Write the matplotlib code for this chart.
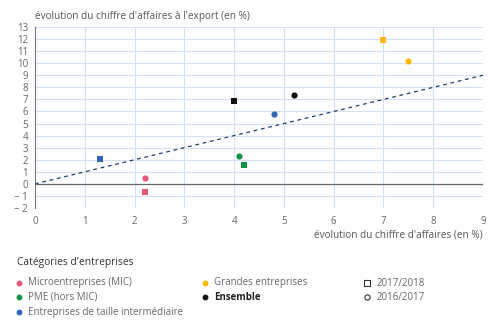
import matplotlib
matplotlib.use("Agg")
import matplotlib.pyplot as plt
from matplotlib.lines import Line2D
from matplotlib.ticker import FuncFormatter

plt.rcParams['font.family'] = ['Open Sans', 'DejaVu Sans']

categories = ["Microentreprises (MIC)", "PME (hors MIC)", "Entreprises de taille intermédiaire",
              "Grandes entreprises", "Ensemble"]
colors = ["#e8567a", "#15924a", "#3464b4", "#fbb800", "#111111"]
# 2017/2018 (squares)
x_1718 = [2.2, 4.2, 1.3, 7.0, 4.0]
y_1718 = [-0.7, 1.6, 2.1, 11.9, 6.9]
# 2016/2017 (circles)
x_1617 = [2.2, 4.1, 4.8, 7.5, 5.2]
y_1617 = [0.5, 2.3, 5.8, 10.2, 7.4]
periods = ["2017/2018", "2016/2017"]
diag = [0, 9]

W, H = 500, 331
fig = plt.figure(figsize=(5, 3.31), dpi=100)
ax = fig.add_axes([35 / W, 1 - 208 / H, (483 - 35) / W, (208 - 27) / H])

ax.set_xlim(0, 9)
ax.set_ylim(-2, 13)
ax.set_xticks(range(0, 10))
ax.set_yticks(range(-2, 14))
ax.grid(True, color="#d6e1ef", linewidth=0.8)
ax.set_axisbelow(True)
for s in ["top", "right", "bottom"]:
    ax.spines[s].set_visible(False)
ax.spines["left"].set_color("#777777")
ax.spines["left"].set_linewidth(0.8)
ax.axhline(0, color="#666666", linewidth=0.9, zorder=1)
ax.tick_params(length=0, labelsize=7, colors="#666666")
ax.tick_params(axis="y", pad=5)
ax.tick_params(axis="x", pad=6)
ax.yaxis.set_major_formatter(FuncFormatter(lambda v, p: f"− {abs(int(v))}" if v < 0 else f"{int(v)}"))

ax.plot(diag, diag, linestyle=(0, (3, 3)), color="#1f3b70", linewidth=0.9, zorder=2)

for i in range(len(categories)):
    ax.scatter(x_1718[i], y_1718[i], marker="s", s=22, color=colors[i], zorder=3, linewidths=0)
    ax.scatter(x_1617[i], y_1617[i], marker="o", s=20, color=colors[i], zorder=3, linewidths=0)

fig.text(35 / W, 1 - 16 / H, "évolution du chiffre d'affaires à l'export (en %)",
         fontsize=7.2, color="#555555", va="center", ha="left")
fig.text(483 / W, 1 - 235 / H, "évolution du chiffre d'affaires (en %)",
         fontsize=7.2, color="#555555", va="center", ha="right")

# Legend
fig.text(17 / W, 1 - 263 / H, "Catégories d'entreprises", fontsize=7.4, color="#333333",
         va="center", ha="left")
legend_pos = [(19, 283), (19, 297), (19, 312), (205, 283), (205, 297)]
for i, cat in enumerate(categories):
    lx, ly = legend_pos[i]
    fig.add_artist(Line2D([lx / W], [1 - ly / H], transform=fig.transFigure, marker="o",
                          markersize=3.2, color=colors[i], linestyle="none"))
    fig.text((lx + 9) / W, 1 - ly / H, cat, fontsize=7.0, color="#666666" if i < 4 else "#222222",
             fontweight="bold" if cat == "Ensemble" else "normal", va="center", ha="left")
for j, (per, mk) in enumerate(zip(periods, ["s", "o"])):
    ly = 283 + 14 * j
    fig.add_artist(Line2D([367 / W], [1 - ly / H], transform=fig.transFigure, marker=mk,
                          markersize=4 if mk == "s" else 3.8, markerfacecolor="white",
                          markeredgecolor="#333333", markeredgewidth=0.8, linestyle="none"))
    fig.text(377 / W, 1 - ly / H, per, fontsize=7.0, color="#666666", va="center", ha="left")

fig.savefig("out.png", dpi=100)
